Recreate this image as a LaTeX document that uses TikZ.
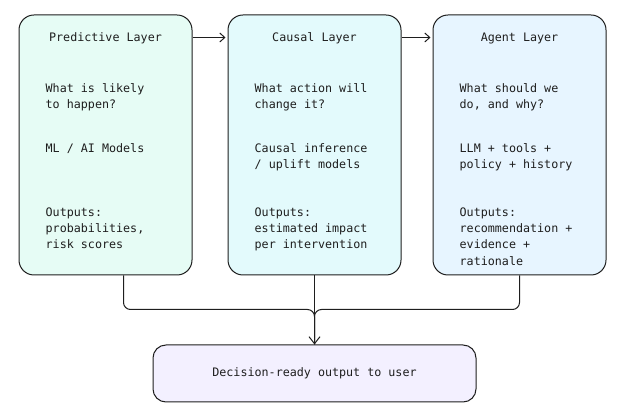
\documentclass[tikz,border=0pt]{standalone}
\usepackage{fontspec}
\setmonofont{DejaVu Sans Mono}
\usepackage{xcolor}
\usetikzlibrary{arrows.meta,positioning}
\definecolor{InkDark}{HTML}{1E1E1E}
\definecolor{MintFill}{HTML}{E6FCF5}
\definecolor{CyanFill}{HTML}{E3FAFC}
\definecolor{SkyFill}{HTML}{E7F5FF}
\definecolor{LilacFill}{HTML}{F3F0FF}

\begin{document}
\begin{tikzpicture}[
  x=1pt,y=-1pt,
  layer/.style={draw=InkDark,line width=1pt,rounded corners=15pt,minimum width=173pt,minimum height=260pt},
  result/.style={draw=InkDark,line width=1pt,rounded corners=13pt,fill=LilacFill,minimum width=323pt,minimum height=57pt,font=\fontsize{11.7}{16}\selectfont\ttfamily,text=InkDark},
  title/.style={anchor=north,inner sep=0pt,font=\fontsize{11.7}{16}\selectfont\ttfamily,text=InkDark},
  body/.style={anchor=north west,inner sep=0pt,align=left,font=\fontsize{11.7}{16.3}\selectfont\ttfamily,text=InkDark},
  arrow/.style={-{Straight Barb[length=5pt,width=9pt]},line width=1pt,InkDark},
  link/.style={line width=1pt,InkDark,rounded corners=7pt}
]
\useasboundingbox (0,0) rectangle (624,419);
\node[layer,fill=MintFill] (pred) at (105.5,145) {};
\node[layer,fill=CyanFill,right=35pt of pred] (caus) {};
\node[layer,fill=SkyFill,right=31pt of caus] (agent) {};
\node[result,below=69pt of caus] (out) {Decision-ready output to user};

% predictive layer
\node[title] (pred-t) at ([yshift=-18pt]pred.north) {Predictive Layer};
\node[body] (pred-q) at ([xshift=27pt,yshift=-69pt]pred.north west) {What is likely\\to happen?};
\node[body] (pred-m) at ([xshift=27pt,yshift=-129pt]pred.north west) {ML / AI Models};
\node[body] (pred-o) at ([xshift=27pt,yshift=-193pt]pred.north west) {Outputs:\\probabilities,\\risk scores};

% causal layer
\node[title] (caus-t) at ([yshift=-18pt]caus.north) {Causal Layer};
\node[body] (caus-q) at ([xshift=27pt,yshift=-69pt]caus.north west) {What action will\\change it?};
\node[body] (caus-m) at ([xshift=27pt,yshift=-129pt]caus.north west) {Causal inference\\/ uplift models};
\node[body] (caus-o) at ([xshift=27pt,yshift=-193pt]caus.north west) {Outputs:\\estimated impact\\per intervention};

% agent layer
\node[title] (agent-t) at ([yshift=-18pt]agent.north) {Agent Layer};
\node[body] (agent-q) at ([xshift=27pt,yshift=-69pt]agent.north west) {What should we\\do, and why?};
\node[body] (agent-m) at ([xshift=27pt,yshift=-129pt]agent.north west) {LLM + tools +\\policy + history};
\node[body] (agent-o) at ([xshift=27pt,yshift=-193pt]agent.north west) {Outputs:\\recommendation +\\evidence +\\rationale};

\draw[arrow] ([yshift=-23pt]pred.north east) -- ([yshift=-23pt,xshift=-2pt]caus.north west);
\draw[arrow] ([yshift=-23pt]caus.north east) -- ([yshift=-23pt,xshift=-2pt]agent.north west);

\draw[link] ([xshift=18pt]pred.south) -- ++(0,34) -| (out.north);
\draw[link] (agent.south) -- ++(0,34) -| (out.north);
\draw[arrow,-{Straight Barb[length=7pt,width=11pt]}] (caus.south) -- (out.north);
\end{tikzpicture}
\end{document}
